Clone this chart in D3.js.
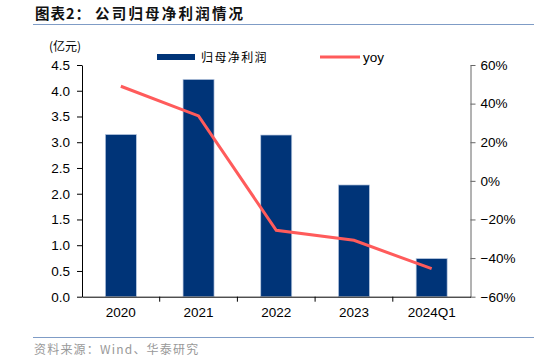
<!DOCTYPE html>
<html><head><meta charset="utf-8">
<script src="https://cdn.jsdelivr.net/npm/d3@7"></script>
<style>body{margin:0;background:#fff}svg{display:block}</style>
</head><body>
<script>
const categories = ["2020","2021","2022","2023","2024Q1"];
const profit = [3.15, 4.22, 3.14, 2.17, 0.74];
const yoy = [0.49, 0.336, -0.256, -0.308, -0.455];
const leftTicks = [0,0.5,1,1.5,2,2.5,3,3.5,4,4.5];
const rightTicks = [-0.6,-0.4,-0.2,0,0.2,0.4,0.6];

const W=534,H=361;
const svg=d3.select("body").append("svg").attr("width",W).attr("height",H);
const font="Liberation Sans, Arial, sans-serif";
const cjk="'Noto Sans CJK SC', sans-serif";
const L=82,R=470.5,T=65,B=296.7;

// title
svg.append("text").attr("x",35).attr("y",19).attr("font-family",cjk).attr("font-weight","bold")
  .attr("font-size",14.5).attr("fill","#111").attr("letter-spacing",1).text("图表2：");
svg.append("text").attr("x",95).attr("y",19).attr("font-family",cjk).attr("font-weight","bold")
  .attr("font-size",14.5).attr("fill","#111").attr("letter-spacing",2.2).text("公司归母净利润情况");
svg.append("line").attr("x1",33).attr("x2",534).attr("y1",24.5).attr("y2",24.5).attr("stroke","#7f9cc6").attr("stroke-width",1);
svg.append("line").attr("x1",33).attr("x2",534).attr("y1",337.5).attr("y2",337.5).attr("stroke","#7f9cc6").attr("stroke-width",1);
svg.append("text").attr("x",34).attr("y",354).attr("font-family",cjk).attr("font-size",12).attr("fill","#999")
  .attr("letter-spacing",1.2).text("资料来源：Wind、华泰研究");

const x=d3.scaleBand().domain(categories).range([L,R]);
const yL=d3.scaleLinear().domain([0,4.5]).range([B,T]);
const yR=d3.scaleLinear().domain([-0.6,0.6]).range([B,T]);

// bars
svg.append("g").selectAll("rect").data(profit).join("rect")
  .attr("x",(d,i)=>x(categories[i])+x.bandwidth()/2-15.5)
  .attr("width",31)
  .attr("y",d=>yL(d)).attr("height",d=>B-yL(d))
  .attr("fill","#003478").attr("stroke","#b8c8e0").attr("stroke-width",0.7);

// left axis
const gl=svg.append("g").attr("transform",`translate(${L},0)`)
  .call(d3.axisLeft(yL).tickValues(leftTicks).tickFormat(d3.format(".1f")).tickSize(5).tickSizeOuter(0));
gl.select(".domain").attr("stroke","#000");
gl.selectAll(".tick line").attr("stroke","#000");
gl.selectAll("text").attr("font-family",font).attr("font-size",13.5).attr("fill","#000").attr("x",-12);

// right axis
const gr=svg.append("g").attr("transform",`translate(${R},0)`)
  .call(d3.axisRight(yR).tickValues(rightTicks).tickFormat(d3.format(".0%")).tickSize(5).tickSizeOuter(0));
gr.select(".domain").attr("stroke","#666");
gr.selectAll(".tick line").attr("stroke","#666");
gr.selectAll("text").attr("font-family",font).attr("font-size",13.5).attr("fill","#000").attr("x",10)
  .text(d=>d3.format(".0f")(d*100)+"%");

// bottom axis
const gb=svg.append("g").attr("transform",`translate(0,${B})`)
  .call(d3.axisBottom(x).tickSize(0));
gb.select(".domain").attr("stroke","#000");
gb.selectAll("text").attr("font-family",font).attr("font-size",13.5).attr("fill","#000").attr("dy","1.3em");
// ticks between categories
svg.append("g").selectAll("line").data(categories.slice(1)).join("line")
  .attr("x1",d=>x(d)).attr("x2",d=>x(d)).attr("y1",B).attr("y2",B+5).attr("stroke","#000");

// yoy line
const line=d3.line().x((d,i)=>x(categories[i])+x.bandwidth()/2).y(d=>yR(d));
svg.append("path").datum(yoy).attr("d",line).attr("fill","none").attr("stroke","#ff5b5b").attr("stroke-width",3);

// unit
svg.append("text").attr("x",49).attr("y",51).attr("font-family",cjk).attr("font-size",12).attr("fill","#000").text("(亿元)");

// legend
svg.append("rect").attr("x",157).attr("y",54).attr("width",38).attr("height",6).attr("fill","#003478");
svg.append("text").attr("x",201).attr("y",61.5).attr("font-family",cjk).attr("font-size",12).attr("fill","#000")
  .attr("letter-spacing",1.4).text("归母净利润");
svg.append("line").attr("x1",320).attr("x2",360).attr("y1",57).attr("y2",57).attr("stroke","#ff5b5b").attr("stroke-width",3);
svg.append("text").attr("x",363).attr("y",61.5).attr("font-family",font).attr("font-size",13.5).attr("fill","#000").text("yoy");
</script>
</body></html>
